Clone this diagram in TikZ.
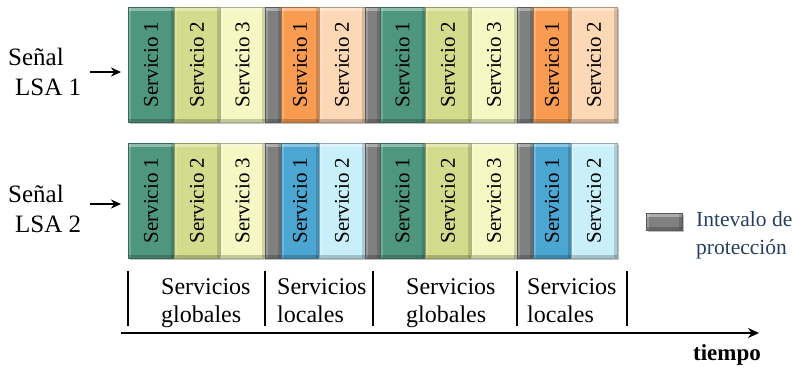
\documentclass[tikz,border=0pt]{standalone}
\usepackage{fontspec}
\setmainfont{Liberation Serif}
\usetikzlibrary{arrows.meta,shadows}
\definecolor{cgreen}{HTML}{4F967F}
\definecolor{cyell}{HTML}{D3DC8C}
\definecolor{cpale}{HTML}{F5F8C2}
\definecolor{cgray}{HTML}{808080}
\definecolor{corange}{HTML}{F99B50}
\definecolor{cpeach}{HTML}{FCD8B6}
\definecolor{cblue}{HTML}{4BA6D2}
\definecolor{clblue}{HTML}{C9F0FA}
\definecolor{cnavy}{HTML}{243F60}
\tikzset{
  blk/.style={draw=#1!70!black, line width=0.6bp, fill=#1, inner sep=0pt,
    minimum height=115bp,
    font=\fontsize{21bp}{25bp}\selectfont,
    drop shadow={shadow xshift=1.5bp, shadow yshift=-2bp, opacity=0.25, fill=black},
    path picture={
      \fill[white,opacity=0.35] (path picture bounding box.north west) rectangle ([yshift=-3.5bp]path picture bounding box.north east);
      \fill[white,opacity=0.2] (path picture bounding box.north west) rectangle ([xshift=3bp]path picture bounding box.south west);
      \fill[black,opacity=0.15] ([xshift=-3bp]path picture bounding box.north east) rectangle (path picture bounding box.south east);
      \fill[black,opacity=0.2] ([yshift=3.5bp]path picture bounding box.south west) rectangle (path picture bounding box.south east);
    }},
  lbl/.style={font=\fontsize{24bp}{28bp}\selectfont, align=left, inner sep=0pt, anchor=north west},
  sig/.style={font=\fontsize{25bp}{30bp}\selectfont, align=left, inner sep=0pt, anchor=north west},
  inarrow/.style={-{Stealth[length=10bp,width=9bp]}, line width=1.8bp},
  bar/.style={line width=2bp},
  axis/.style={-{Stealth[length=11bp,width=10bp]}, line width=2bp},
}
\begin{document}
\begin{tikzpicture}[x=1bp,y=1bp]
\useasboundingbox (0,0) rectangle (808,-371);
% row 1
\foreach \i/\cx/\w/\col/\t in {
  1/151/46/cgreen/Servicio 1, 2/197/46/cyell/Servicio 2, 3/242.5/45/cpale/Servicio 3,
  4/273/16/cgray/, 5/300/38/corange/Servicio 1, 6/342/46/cpeach/Servicio 2,
  7/372.5/15/cgray/, 8/402.5/45/cgreen/Servicio 1, 9/448/46/cyell/Servicio 2,
  10/494/46/cpale/Servicio 3, 11/525/16/cgray/, 12/552/38/corange/Servicio 1,
  13/594/46/cpeach/Servicio 2}
  \node[blk=\col, minimum width={\w bp}] (ra\i) at (\cx,-64.5) {\rotatebox{90}{\t}};
% row 2
\foreach \i/\cx/\w/\col/\t in {
  1/151/46/cgreen/Servicio 1, 2/197/46/cyell/Servicio 2, 3/242.5/45/cpale/Servicio 3,
  4/273/16/cgray/, 5/300/38/cblue/Servicio 1, 6/342/46/clblue/Servicio 2,
  7/372.5/15/cgray/, 8/402.5/45/cgreen/Servicio 1, 9/448/46/cyell/Servicio 2,
  10/494/46/cpale/Servicio 3, 11/525/16/cgray/, 12/552/38/cblue/Servicio 1,
  13/594/46/clblue/Servicio 2}
  \node[blk=\col, minimum width={\w bp}] (rb\i) at (\cx,-200.5) {\rotatebox{90}{\t}};
% signal labels
\node[sig] (s1) at (8,-48) {Señal\\\hspace*{7bp}LSA 1};
\node[sig] (s2) at (8,-185) {Señal\\\hspace*{7bp}LSA 2};
\coordinate (a1s) at (90,-72);
\coordinate (a1e) at (121,-72);
\coordinate (a2s) at (90,-204);
\coordinate (a2e) at (121,-204);
\draw[inarrow] (a1s) -- (a1e);
\draw[inarrow] (a2s) -- (a2e);
% legend
\node[blk=cgray, minimum width=36bp, minimum height=17bp] (leg) at (664,-221.5) {};
\node[lbl, font=\fontsize{21.5bp}{28bp}\selectfont, text=cnavy] (legt) at (696,-211) {Intevalo de\\protección};
% bottom bars
\foreach \x [count=\k] in {128,265,373,517,627} {
  \coordinate (bt\k) at (\x,-271);
  \coordinate (bb\k) at (\x,-326);
  \draw[bar] (bt\k) -- (bb\k);
}
\node[lbl] (g1) at (161,-278) {Servicios\\globales};
\node[lbl] (l1) at (277,-278) {Servicios\\locales};
\node[lbl] (g2) at (406,-278) {Servicios\\globales};
\node[lbl] (l2) at (527,-278) {Servicios\\locales};
% axis
\coordinate (ax0) at (121,-333);
\coordinate (ax1) at (759,-333);
\draw[axis] (ax0) -- (ax1);
\node[lbl, anchor=center, font=\fontsize{23bp}{27bp}\selectfont\bfseries] (tiempo) at (727,-355) {tiempo};
\end{tikzpicture}
\end{document}
